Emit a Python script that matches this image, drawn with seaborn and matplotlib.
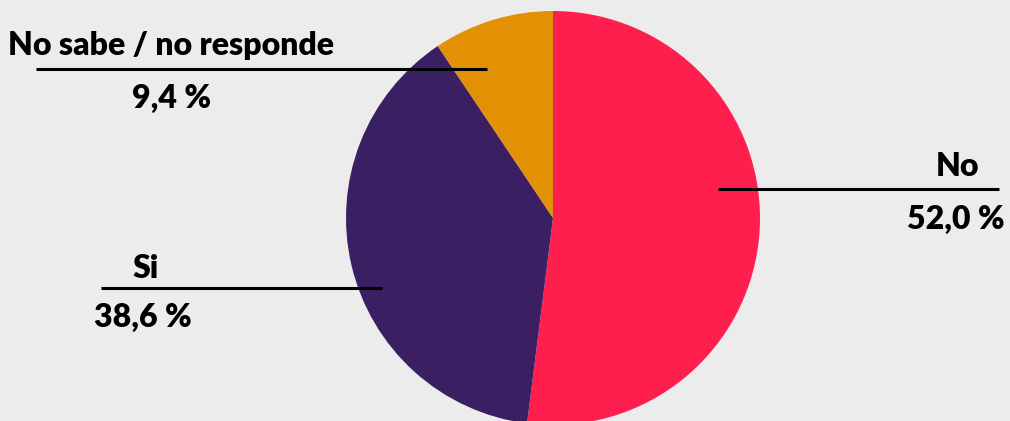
import matplotlib
matplotlib.use("Agg")
import matplotlib.pyplot as plt
import seaborn as sns

# datos
categorias = ["No", "Si", "No sabe / no responde"]
porcentajes = [52.0, 38.6, 9.4]
colores = ["#FE1F4F", "#3A1F63", "#E29104"]

FONDO = "#ECECEC"
W, H = 1010, 421

sns.set_style("white")
plt.rcParams["font.family"] = ["Lato", "DejaVu Sans"]

fig = plt.figure(figsize=(W / 100, H / 100), dpi=100, facecolor=FONDO)
ax = fig.add_axes([0, 0, 1, 1])
ax.set_facecolor(FONDO)

ax.pie(
    porcentajes,
    colors=colores,
    startangle=90,
    counterclock=False,
    center=(553, H - 218),
    radius=207,
    wedgeprops={"linewidth": 0},
    frame=True,
)
ax.set_xlim(0, W)
ax.set_ylim(0, H)
ax.set_aspect("equal")
ax.axis("off")

# posiciones de etiquetas (pixeles, y desde arriba)
# (linea x0, x1, y), (etiqueta x, y, ha), (valor x, y, ha)
etiquetas = {
    "No": ((718, 999, 189), (979, 166, "right"), (1005, 219, "right")),
    "Si": ((101, 382, 288), (146, 268, "center"), (143, 317, "center")),
    "No sabe / no responde": ((36, 487, 69), (171, 46, "center"), (172, 98, "center")),
}

for cat, val in zip(categorias, porcentajes):
    (x0, x1, yl), (tx, ty, tha), (vx, vy, vha) = etiquetas[cat]
    ax.plot([x0, x1], [H - yl, H - yl], color="black", linewidth=2.2, solid_capstyle="butt")
    ax.text(tx, H - ty, cat, ha=tha, va="center", fontsize=23, fontweight="heavy", color="black")
    ax.text(vx, H - vy, f"{val:.1f} %".replace(".", ","), ha=vha, va="center",
            fontsize=23, fontweight="heavy", color="black")

fig.savefig("out.png", dpi=100, facecolor=FONDO)
